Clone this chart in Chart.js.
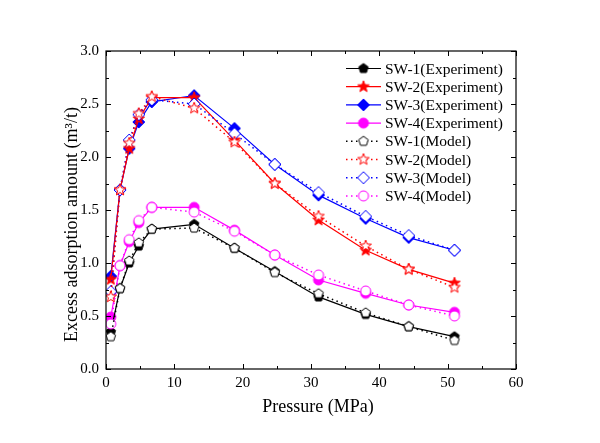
<!DOCTYPE html>
<html><head><meta charset="utf-8">
<script src="https://cdn.jsdelivr.net/npm/chart.js@4/dist/chart.umd.min.js"></script>
<style>html,body{margin:0;padding:0;background:#fff;}</style>
</head><body>
<canvas id="c" width="600" height="443" style="width:600px;height:443px;display:block"></canvas>
<script>
// ---- data ----
const pressure = [0.7, 2.05, 3.4, 4.8, 6.7, 12.9, 18.8, 24.7, 31.1, 38.0, 44.3, 51.0];
const sw1Exp   = [0.35, 0.76, 1.00, 1.16, 1.32, 1.365, 1.14, 0.92, 0.68, 0.515, 0.40, 0.305];
const sw1Model = [0.305, 0.76, 1.02, 1.19, 1.32, 1.33, 1.14, 0.91, 0.71, 0.53, 0.40, 0.27];
const sw2Exp   = [0.845, 1.69, 2.08, 2.36, 2.56, 2.56, 2.16, 1.75, 1.405, 1.12, 0.94, 0.81];
const sw2Model = [0.68, 1.69, 2.13, 2.41, 2.57, 2.46, 2.14, 1.75, 1.44, 1.16, 0.94, 0.77];
const sw3Exp   = [0.875, 1.69, 2.08, 2.33, 2.52, 2.58, 2.27, 1.93, 1.64, 1.42, 1.24, 1.12];
const sw3Model = [0.73, 1.69, 2.16, 2.40, 2.54, 2.50, 2.22, 1.93, 1.665, 1.44, 1.26, 1.12];
const sw4Exp   = [0.49, 0.975, 1.20, 1.38, 1.525, 1.525, 1.31, 1.075, 0.84, 0.714, 0.604, 0.535];
const sw4Model = [0.425, 0.975, 1.22, 1.40, 1.525, 1.48, 1.30, 1.075, 0.887, 0.736, 0.604, 0.50];
const seriesLabels = ['SW-1(Experiment)','SW-2(Experiment)','SW-3(Experiment)','SW-4(Experiment)',
                      'SW-1(Model)','SW-2(Model)','SW-3(Model)','SW-4(Model)'];
const xTitle = 'Pressure (MPa)';
const yTitle = 'Excess adsorption amount (m\u00B3/t)';

const FONT = '"Liberation Serif", "Times New Roman", serif';

// ---- marker images ----
function makeMarker(shape, fill, stroke, r) {
  const s = Math.ceil(2 * r + 4);
  const cv = document.createElement('canvas');
  cv.width = s; cv.height = s;
  const g = cv.getContext('2d');
  const c = s / 2;
  g.beginPath();
  if (shape === 'pentagon') {
    for (let i = 0; i < 5; i++) {
      const a = -Math.PI / 2 + i * 2 * Math.PI / 5;
      const px = c + r * Math.cos(a), py = c + r * Math.sin(a);
      i ? g.lineTo(px, py) : g.moveTo(px, py);
    }
  } else if (shape === 'star') {
    for (let i = 0; i < 10; i++) {
      const a = -Math.PI / 2 + i * Math.PI / 5;
      const rr = i % 2 ? r * 0.42 : r;
      const px = c + rr * Math.cos(a), py = c + rr * Math.sin(a);
      i ? g.lineTo(px, py) : g.moveTo(px, py);
    }
  } else if (shape === 'diamond') {
    g.moveTo(c, c - r); g.lineTo(c + r, c); g.lineTo(c, c + r); g.lineTo(c - r, c);
  } else {
    g.arc(c, c, r, 0, Math.PI * 2);
  }
  g.closePath();
  g.fillStyle = fill; g.fill();
  g.lineWidth = 1; g.strokeStyle = stroke; g.stroke();
  return cv;
}
const colors = ['#000000', '#ff0000', '#0000ff', '#ff00ff'];
const shapes = ['pentagon', 'star', 'diamond', 'circle'];
const radii  = [5, 6, 6, 5];
const expMarkers = shapes.map((sh, i) => makeMarker(sh, colors[i], colors[i], radii[i]));
const modMarkers = shapes.map((sh, i) => makeMarker(sh, '#ffffff', colors[i], radii[i]));

const expData = [sw1Exp, sw2Exp, sw3Exp, sw4Exp];
const modData = [sw1Model, sw2Model, sw3Model, sw4Model];
const toXY = arr => arr.map((v, i) => ({x: pressure[i], y: v}));

const datasets = [];
expData.forEach((arr, i) => datasets.push({
  label: seriesLabels[i], data: toXY(arr), borderColor: colors[i], backgroundColor: colors[i],
  borderWidth: 1.2, pointStyle: expMarkers[i], pointRadius: radii[i], tension: 0, order: 2,
  isModel: false, idx: i
}));
modData.forEach((arr, i) => datasets.push({
  label: seriesLabels[i + 4], data: toXY(arr), borderColor: colors[i], backgroundColor: '#ffffff',
  borderWidth: 1.5, borderDash: [1.5, 3.5], pointStyle: modMarkers[i], pointRadius: radii[i],
  tension: 0, order: 1, isModel: true, idx: i
}));

// ---- frame, inward ticks, titles and legend ----
const framePlugin = {
  id: 'framePlugin',
  afterDraw(chart) {
    const {ctx, chartArea: a, scales: {x, y}} = chart;
    ctx.save();
    ctx.strokeStyle = '#000'; ctx.lineWidth = 1.2;
    ctx.strokeRect(a.left, a.top, a.right - a.left, a.bottom - a.top);
    ctx.lineWidth = 1;
    ctx.beginPath();
    for (let v = 0; v <= 60; v += 5) {
      const px = Math.round(x.getPixelForValue(v)) + 0.5;
      const L = (v % 10 === 0) ? 5 : 3;
      ctx.moveTo(px, a.bottom); ctx.lineTo(px, a.bottom - L);
      ctx.moveTo(px, a.top); ctx.lineTo(px, a.top + L);
    }
    for (let k = 0; k <= 12; k++) {
      const v = k * 0.25;
      const py = Math.round(y.getPixelForValue(v)) + 0.5;
      const L = (k % 2 === 0) ? 5 : 3;
      ctx.moveTo(a.left, py); ctx.lineTo(a.left + L, py);
      ctx.moveTo(a.right, py); ctx.lineTo(a.right - L, py);
    }
    ctx.stroke();

    // axis titles
    ctx.fillStyle = '#000';
    ctx.font = '18px ' + FONT;
    ctx.textAlign = 'center'; ctx.textBaseline = 'alphabetic';
    ctx.fillText(xTitle, 318, 411.5);
    ctx.save();
    ctx.translate(76.5, 224.5); ctx.rotate(-Math.PI / 2);
    ctx.fillText(yTitle, 0, 0);
    ctx.restore();

    // legend
    ctx.font = '15.5px ' + FONT;
    ctx.textAlign = 'left'; ctx.textBaseline = 'middle';
    chart.data.datasets.forEach((ds, k) => {
      const yy = 68.5 + k * 18.2;
      ctx.save();
      ctx.strokeStyle = ds.borderColor; ctx.lineWidth = ds.borderWidth;
      ctx.setLineDash(ds.isModel ? [1.5, 3.5] : []);
      ctx.beginPath(); ctx.moveTo(346, yy); ctx.lineTo(381, yy); ctx.stroke();
      ctx.restore();
      const m = ds.pointStyle;
      ctx.drawImage(m, 363.5 - m.width / 2, yy - m.height / 2);
      ctx.fillStyle = '#000';
      ctx.fillText(ds.label, 385, yy + 1);
    });
    ctx.restore();
  }
};

new Chart(document.getElementById('c'), {
  type: 'line',
  data: {datasets},
  options: {
    responsive: false, animation: false, devicePixelRatio: 1,
    layout: {padding: {top: 51, right: 84, left: 0, bottom: 0}},
    plugins: {legend: {display: false}, tooltip: {enabled: false}},
    scales: {
      x: {
        type: 'linear', min: 0, max: 60,
        grid: {display: false, drawTicks: false},
        border: {display: false},
        ticks: {stepSize: 10, color: '#000', padding: 5, font: {family: FONT, size: 15},
                callback: v => String(v)},
        afterFit: s => { s.height = 74; }
      },
      y: {
        type: 'linear', min: 0, max: 3,
        grid: {display: false, drawTicks: false},
        border: {display: false},
        ticks: {stepSize: 0.5, color: '#000', padding: 7, font: {family: FONT, size: 15},
                callback: v => v.toFixed(1)},
        afterFit: s => { s.width = 106; }
      }
    }
  },
  plugins: [framePlugin]
});
</script>
</body></html>
